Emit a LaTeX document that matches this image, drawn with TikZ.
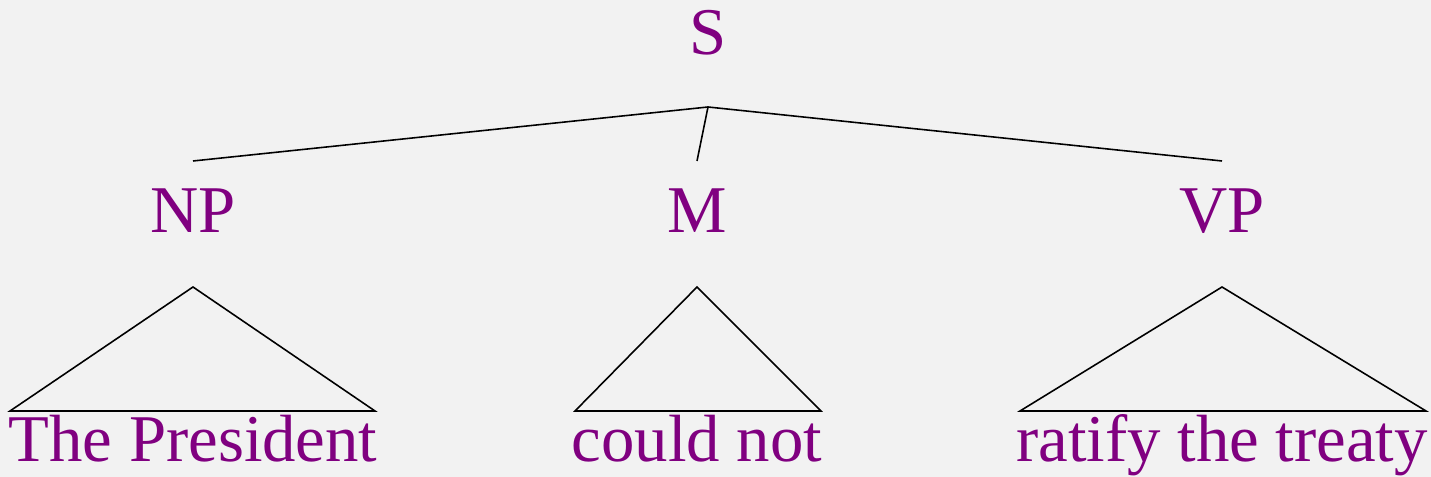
\documentclass[tikz,border=0pt]{standalone}
\usepackage{fontspec}
\setmainfont{Liberation Serif}
\newfontfamily\treefont{Liberation Serif}
\usepackage{xcolor}
\usepackage{tikz}
\usetikzlibrary{calc}

\definecolor{catpurple}{HTML}{800080}
\definecolor{bggray}{HTML}{F2F2F2}

\begin{document}
\begin{tikzpicture}[
    x=0.1mm, y=-0.1mm,
    every node/.style={font=\treefont\fontsize{19}{22}\selectfont, text=catpurple, inner sep=0pt, anchor=base},
    branch/.style={draw=black, line width=0.45pt, line join=miter}
]

% Background and bounds
\fill[bggray] (0,0) rectangle (1431,477);
\useasboundingbox (0,0) rectangle (1431,477);

% Categories
\node (S) at (708,55) {S};
\node (NP) at (193,233) {NP};
\node (M) at (697,233) {M};
\node (VP) at (1222,233) {VP};

% Words
\node (np-words) at (193,462) {The President};
\node (m-words) at (697,462) {could not};
\node (vp-words) at (1222,462) {ratify the treaty};

% Joints of the tree
\coordinate (S-foot) at (708,107);
\coordinate (NP-top) at (193,161);
\coordinate (M-top) at (697,161);
\coordinate (VP-top) at (1222,161);
\coordinate (NP-foot) at (193,287);
\coordinate (M-foot) at (697,287);
\coordinate (VP-foot) at (1222,287);

% Branches from S
\draw[branch] (S-foot) -- (NP-top);
\draw[branch] (S-foot) -- (M-top);
\draw[branch] (S-foot) -- (VP-top);

% Triangles over the words
\draw[branch] (NP-foot) -- (10,411) -- (375,411) -- cycle;
\draw[branch] (M-foot) -- (575,411) -- (821,411) -- cycle;
\draw[branch] (VP-foot) -- (1020,411) -- (1426,411) -- cycle;

\end{tikzpicture}
\end{document}
